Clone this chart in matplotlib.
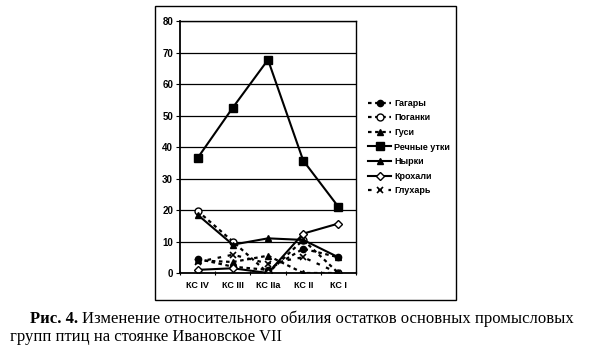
import matplotlib
matplotlib.use("Agg")
import matplotlib.pyplot as plt
from matplotlib.patches import Rectangle

plt.rcParams['font.family'] = ['Liberation Sans', 'DejaVu Sans']

# данные (%)
categories = ["КС IV", "КС III", "КС IIa", "КС II", "КС I"]
gagary = [4.5, 2.0, 1.0, 7.7, 5.0]
poganki = [19.7, 10.0, 0.0, 10.5, 0.0]
gusi = [4.0, 3.5, 5.5, 0.0, 0.0]
rechnye_utki = [36.5, 52.5, 67.7, 35.7, 21.0]
nyrki = [18.5, 9.0, 11.0, 10.5, 5.0]
krohali = [1.0, 1.5, 0.0, 12.5, 15.7]
gluhar = [3.5, 5.8, 3.0, 5.0, 0.0]

W, H = 591, 356
fig = plt.figure(figsize=(W / 100, H / 100), dpi=100)

# внешняя рамка диаграммы
fig.patches.append(Rectangle((155 / W, 1 - 300 / H), 301 / W, 294 / H,
                             transform=fig.transFigure, fill=False,
                             edgecolor="black", linewidth=1.0))

ax = fig.add_axes([180 / W, 1 - 273 / H, 176 / W, 252 / H])
x = range(len(categories))

dash = (0, (1.6, 1.6))
ax.plot(x, gagary, linestyle=dash, color="black", lw=1.6, marker="o",
        ms=4.5, mfc="black", mec="black", label="Гагары")
ax.plot(x, poganki, linestyle=dash, color="black", lw=1.6, marker="o",
        ms=5, mfc="white", mec="black", mew=1.0, label="Поганки")
ax.plot(x, gusi, linestyle=dash, color="black", lw=1.6, marker="^",
        ms=4.5, mfc="black", mec="black", label="Гуси")
ax.plot(x, rechnye_utki, linestyle="-", color="black", lw=1.5, marker="s",
        ms=5.5, mfc="black", mec="black", label="Речные утки")
ax.plot(x, nyrki, linestyle="-", color="black", lw=1.5, marker="^",
        ms=4.5, mfc="black", mec="black", label="Нырки")
ax.plot(x, krohali, linestyle="-", color="black", lw=1.5, marker="D",
        ms=4, mfc="white", mec="black", mew=1.0, label="Крохали")
ax.plot(x, gluhar, linestyle=(0, (1.6, 3)), color="black", lw=1.6, marker="x",
        ms=5, mec="black", mew=1.2, label="Глухарь")

ax.set_xlim(-0.5, len(categories) - 0.5)
ax.set_ylim(0, 80)
ax.set_yticks(range(0, 81, 10))
ax.set_xticks(list(x))
ax.set_xticklabels(categories)
ax.set_xticks([i - 0.5 for i in range(len(categories) + 1)], minor=True)
ax.tick_params(axis="x", which="major", length=0, pad=6)
ax.tick_params(axis="x", which="minor", length=3, width=0.8, direction="inout")
ax.tick_params(axis="y", length=3, width=0.8, direction="out", pad=2)
for lab in ax.get_xticklabels():
    lab.set_fontsize(6.5)
    lab.set_fontweight("bold")
for lab in ax.get_yticklabels():
    lab.set_fontsize(7)
    lab.set_fontweight("bold")

ax.grid(axis="y", color="black", linewidth=0.9)
ax.set_axisbelow(True)
for s in ax.spines.values():
    s.set_linewidth(1.0)
ax.spines["left"].set_linewidth(1.3)
ax.spines["bottom"].set_linewidth(1.3)

fig.legend(loc="center left", bbox_to_anchor=(368 / W, 1 - 147 / H),
           frameon=False, handlelength=2.6, handletextpad=0.3,
           labelspacing=0.62, borderaxespad=0, borderpad=0,
           prop={"weight": "bold", "size": 6.5})

# подпись к рисунку
fig.canvas.draw()
r = fig.canvas.get_renderer()
t1 = fig.text(30 / W, 1 - 323 / H, "Рис. 4.", family="Liberation Serif",
              weight="bold", fontsize=12, va="baseline")
bb = t1.get_window_extent(r)
fig.text(bb.x1 / W + 4 / W, 1 - 323 / H,
         "Изменение относительного обилия остатков основных промысловых",
         family="Liberation Serif", fontsize=12, va="baseline")
fig.text(10 / W, 1 - 341 / H, "групп птиц на стоянке Ивановское VII",
         family="Liberation Serif", fontsize=12, va="baseline")

fig.savefig("out.png", dpi=100)
